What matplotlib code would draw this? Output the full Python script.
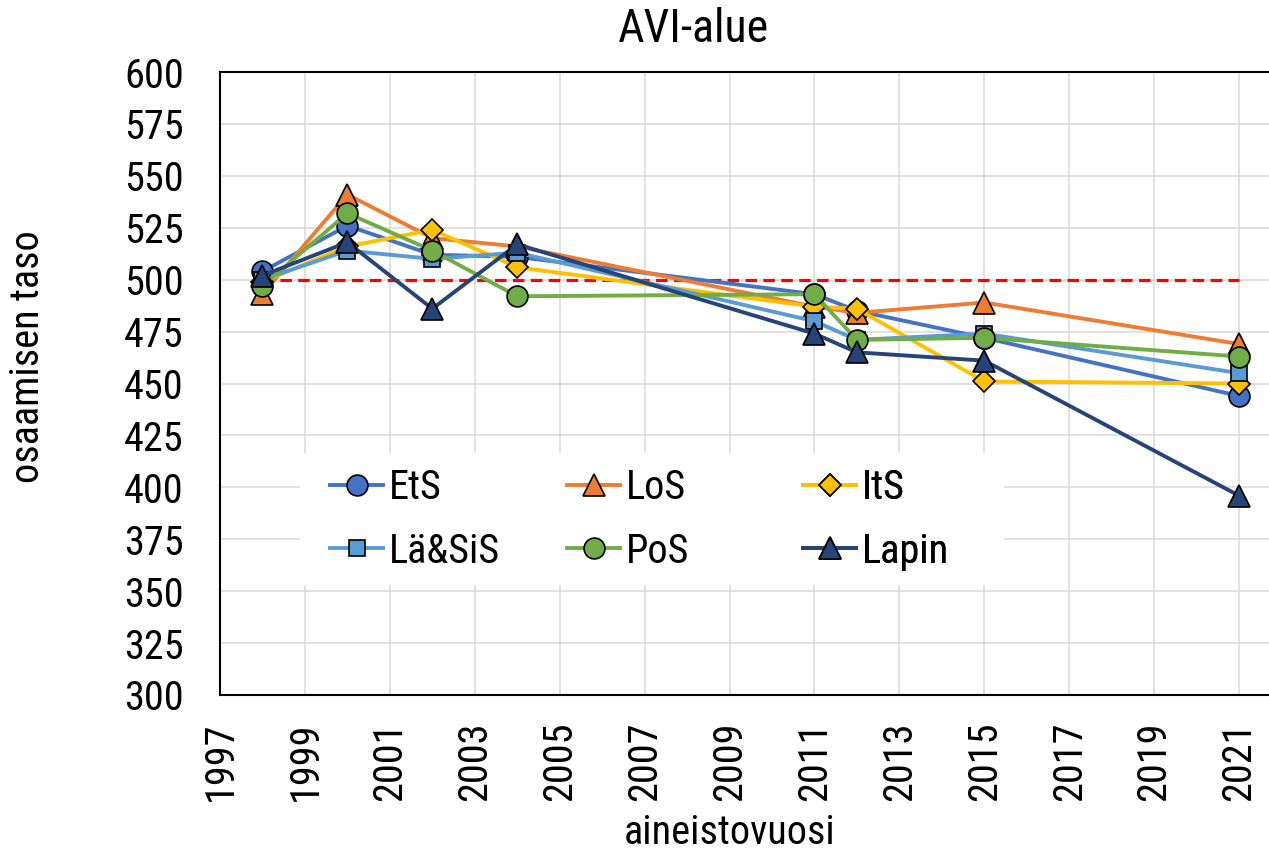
import matplotlib.pyplot as plt
from matplotlib.patches import Rectangle
from matplotlib.lines import Line2D

plt.rcParams['font.family'] = ['Roboto Condensed', 'Liberation Sans', 'DejaVu Sans']

# aineistovuodet ja tulokset
vuodet = [1998, 2000, 2002, 2004, 2011, 2012, 2015, 2021]
ets = [504, 526, 512, 511, 493, 485, 472, 444]
los = [493, 541, 520, 516, 487, 484, 489, 469]
its = [499, 516, 524, 506, 487, 486, 451, 450]
lasis = [500, 514, 510, 513, 480, 471, 474, 455]
pos = [497, 532, 514, 492, 493, 471, 472, 463]
lapin = [502, 518, 486, 517, 474, 465, 461, 396]

vertailu_vuodet = [1998, 2021]
vertailu = [500, 500]

x_ticks = list(range(1997, 2022, 2))
y_ticks = list(range(300, 601, 25))

sarjat = [
    ('EtS', ets, '#4472C4', 'o', 15),
    ('LoS', los, '#ED7D31', '^', 15.5),
    ('ItS', its, '#FFC000', 'D', 11),
    ('Lä&SiS', lasis, '#5B9BD5', 's', 12),
    ('PoS', pos, '#70AD47', 'o', 15),
    ('Lapin', lapin, '#264478', '^', 15.5),
]

fig = plt.figure(figsize=(12.69, 8.52), dpi=100)
ax = fig.add_axes([220 / 1269, 1 - 695 / 852, 1049 / 1269, 623 / 852])

ax.plot(vertailu_vuodet, vertailu, color='#FF0000', lw=2.3, dashes=(3.6, 2.0), zorder=2)

kahvat = []
for i, (nimi, arvot, vari, merkki, koko) in enumerate(sarjat):
    ax.plot(vuodet, arvot, color=vari, lw=2.8, marker=merkki, markersize=koko,
            markerfacecolor=vari, markeredgecolor='black', markeredgewidth=1.2,
            zorder=3 + i)
    kahvat.append(Line2D([], [], color=vari, lw=2.8, marker=merkki, markersize=koko,
                         markerfacecolor=vari, markeredgecolor='black',
                         markeredgewidth=1.2))

ax.set_xlim(1997, 1997 + 1049 / 42.46)
ax.set_ylim(300, 600)
ax.set_xticks(x_ticks)
ax.set_yticks(y_ticks)
ax.set_xticklabels([str(v) for v in x_ticks], rotation=90)
ax.tick_params(axis='both', length=0, labelsize=29)
ax.tick_params(axis='y', pad=26)
ax.tick_params(axis='x', pad=19)
ax.grid(True, color='#D9D9D9', lw=1.1, zorder=0)
ax.set_axisbelow(True)

for s in ['left', 'bottom', 'top']:
    ax.spines[s].set_color('black')
    ax.spines[s].set_linewidth(1.5)
ax.spines['right'].set_visible(False)

ax.set_ylabel('osaamisen taso', fontsize=29)
ax.yaxis.set_label_coords(-0.165, 0.5425)
ax.set_xlabel('aineistovuosi', fontsize=29)
ax.xaxis.set_label_coords(0.4862, -0.19)

fig.text(694 / 1269, 1 - 29 / 852, 'AVI-alue', fontsize=33, ha='center', va='center')

# selitteen valkoinen tausta
ax.add_patch(Rectangle((0.0763, 0.1766), 0.6707, 0.2114, transform=ax.transAxes,
                       facecolor='white', edgecolor='none', zorder=20))

sarake_x = [0.1049, 0.3308, 0.5558]
jarjestys = [(0, 3), (1, 4), (2, 5)]
for x0, (a, b) in zip(sarake_x, jarjestys):
    leg = ax.legend([kahvat[a], kahvat[b]], [sarjat[a][0], sarjat[b][0]],
                    loc='center left', bbox_to_anchor=(x0, 0.2817), frameon=False,
                    fontsize=29, handlelength=1.32, handletextpad=0.15,
                    labelspacing=0.6, borderpad=0, borderaxespad=0)
    leg.set_zorder(21)
    ax.add_artist(leg)

fig.savefig('out.png', dpi=100)
